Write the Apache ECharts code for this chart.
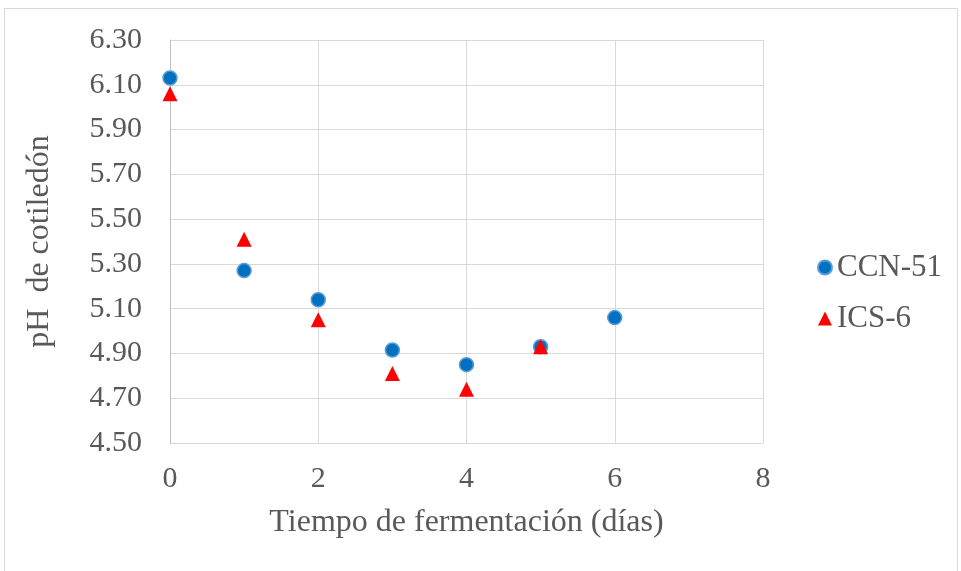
<!DOCTYPE html>
<html>
<head>
<meta charset="utf-8">
<script src="https://cdn.jsdelivr.net/npm/echarts@6/dist/echarts.min.js"></script>
<style>html,body{margin:0;padding:0;background:#fff}#c{width:961px;height:571px}</style>
</head>
<body>
<div id="c"></div>
<script>
var days = [0, 1, 2, 3, 4, 5, 6];
var ccn51 = [6.13, 5.27, 5.14, 4.915, 4.85, 4.93, 5.06];
var icsDays = [0, 1, 2, 3, 4, 5];
var ics6 = [6.06, 5.41, 5.05, 4.81, 4.74, 4.93];
var seriesNames = ['CCN-51', 'ICS-6'];
var xTitle = 'Tiempo de fermentación (días)';
var yTitle = 'pH  de cotiledón';

var font = '"Liberation Serif", "Times New Roman", serif';
var chart = echarts.init(document.getElementById('c'), null, {renderer: 'canvas'});
chart.setOption({
  animation: false,
  backgroundColor: '#fff',
  graphic: [{
    type: 'rect', shape: {x: 4.5, y: 8.5, width: 953, height: 600},
    style: {fill: 'none', stroke: '#d9d9d9', lineWidth: 1}, silent: true
  }],
  grid: {left: 170, right: 198, top: 40, bottom: 128},
  legend: {
    orient: 'vertical', left: 812, top: 247, itemGap: 20, itemWidth: 14, itemHeight: 14,
    textStyle: {fontFamily: font, fontSize: 31, color: '#595959'},
    data: [{name: seriesNames[0], icon: 'circle'}, {name: seriesNames[1], icon: 'triangle'}]
  },
  xAxis: {
    type: 'value', min: 0, max: 8, interval: 2,
    name: xTitle, nameLocation: 'middle', nameGap: 64,
    nameTextStyle: {fontFamily: font, fontSize: 32, color: '#595959'},
    axisLine: {show: false}, axisTick: {show: false},
    splitLine: {show: true, lineStyle: {color: '#d9d9d9', width: 1}},
    axisLabel: {fontFamily: font, fontSize: 30, color: '#595959', margin: 21}
  },
  yAxis: {
    type: 'value', min: 4.5, max: 6.3, interval: 0.2,
    name: yTitle, nameLocation: 'middle', nameGap: 114,
    nameTextStyle: {fontFamily: font, fontSize: 32, color: '#595959'},
    axisLine: {show: true, lineStyle: {color: '#bfbfbf', width: 1}}, axisTick: {show: false},
    splitLine: {show: true, lineStyle: {color: '#d9d9d9', width: 1}},
    axisLabel: {fontFamily: font, fontSize: 30, color: '#595959', margin: 28,
      formatter: function (v) { return v.toFixed(2); }}
  },
  series: [
    {
      name: seriesNames[0], type: 'scatter', symbol: 'circle', symbolSize: 14,
      itemStyle: {color: '#0070c0', borderColor: '#5b9bd5', borderWidth: 1.5, opacity: 1},
      data: days.map(function (d, i) { return [d, ccn51[i]]; }), z: 2
    },
    {
      name: seriesNames[1], type: 'scatter', symbol: 'triangle', symbolSize: 15,
      itemStyle: {color: '#ff0000', opacity: 1},
      data: icsDays.map(function (d, i) { return [d, ics6[i]]; }), z: 3
    }
  ]
});
</script>
</body>
</html>
